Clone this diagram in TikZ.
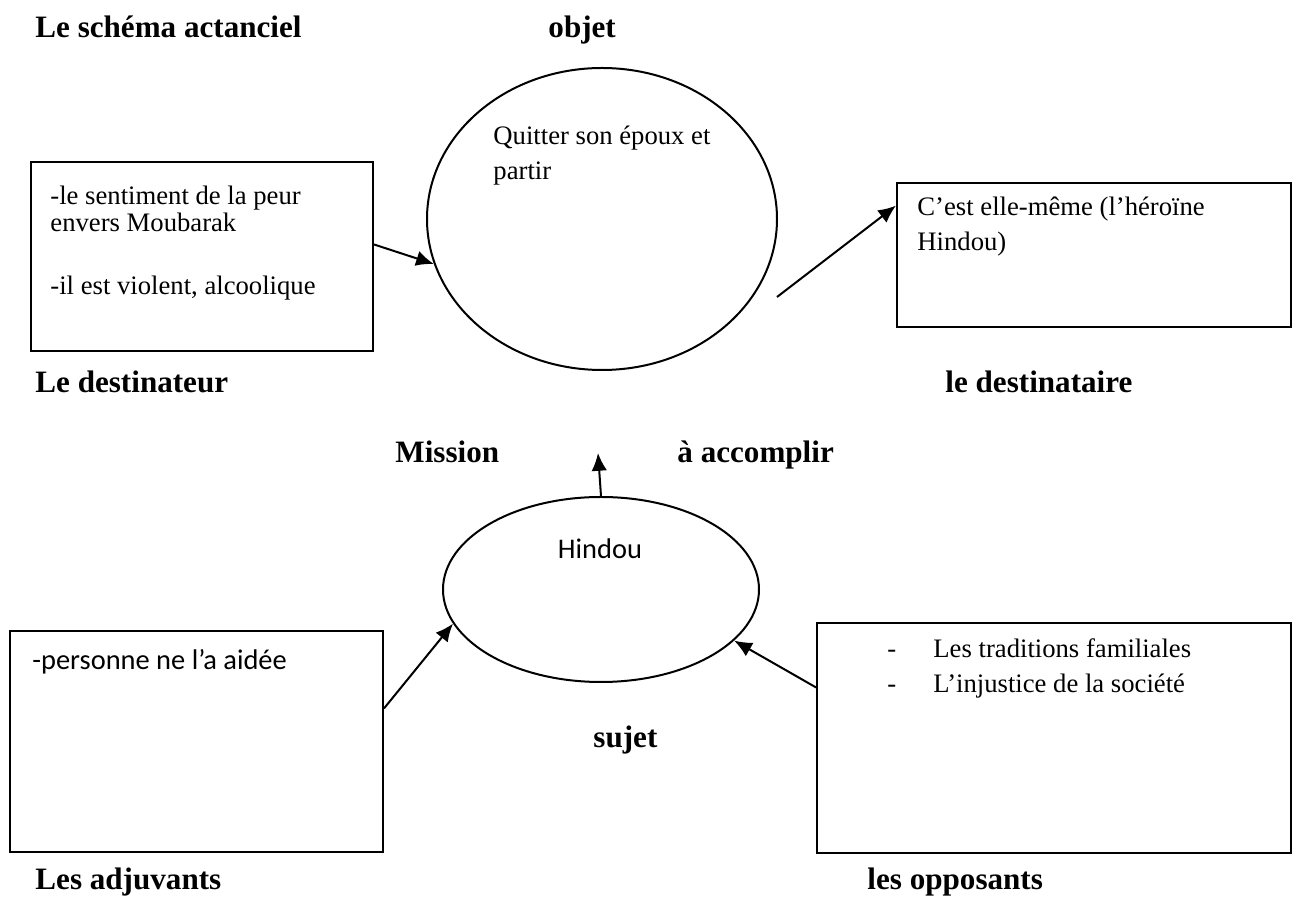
\documentclass[tikz,border=0pt]{standalone}
\usepackage{fontspec}
\setmainfont{Liberation Serif}
\newfontfamily\calibri{Carlito}
\usetikzlibrary{arrows.meta, shapes.geometric}

\begin{document}
\begin{tikzpicture}[x=0.45pt,y=-0.45pt,>={Latex[length=8pt,width=7pt]},
		lab/.style={font=\bfseries\fontsize{14}{16}\selectfont,inner sep=0,anchor=base west},
		txt/.style={font=\fontsize{12}{15.75}\selectfont,inner sep=0,anchor=base west,align=left},
		cal/.style={font=\calibri\fontsize{12.8}{15}\selectfont,inner sep=0,anchor=base west},
		box/.style={draw,line width=0.9pt,inner sep=0},
		bulle/.style={ellipse,draw,line width=0.9pt,inner sep=0},
		every edge/.append style={line width=0.9pt}]
	\useasboundingbox (0,0) rectangle (1314,900);
	% titres
	\node[lab] (titre) at (35,38) {Le schéma actanciel};
	\node[lab] (lobjet) at (548,38) {objet};
	\node[lab] (ldteur) at (35,393) {Le destinateur};
	\node[lab] (ldtaire) at (945,393) {le destinataire};
	\node[lab] (lmission) at (395,463) {Mission};
	\node[lab] (laccomplir) at (677,463) {à accomplir};
	\node[lab] (lsujet) at (593,748) {sujet};
	\node[lab] (ladj) at (35,890) {Les adjuvants};
	\node[lab] (lopp) at (867,890) {les opposants};
	% objet
	\node[bulle,minimum width=157.5pt,minimum height=135.9pt] (obj) at (602,219) {};
	\node[txt] (objtxt) at (493,180) {Quitter son époux et\\partir};
	% destinateur
	\node[box,minimum width=153.9pt,minimum height=85.05pt] (dteur) at (202,256.5) {};
	\node[txt,font=\fontsize{12}{12.3}\selectfont] (peur) at (50,232) {-le sentiment de la peur\\envers Moubarak};
	\node[txt] (violent) at (50,295) {-il est violent, alcoolique};
	% destinataire
	\node[box,minimum width=177.3pt,minimum height=64.8pt] (dtaire) at (1094,255) {};
	\node[txt] (heroine) at (917,251) {C’est elle-même (l’héroïne\\Hindou)};
	\coordinate (objout) at (777,297);
	% sujet
	\node[bulle,minimum width=142.2pt,minimum height=83.25pt] (sujet) at (601,589.5) {};
	\node[cal,anchor=base] (hindou) at (600,559) {Hindou};
	\coordinate (mission) at (598,453);
	% adjuvants
	\node[box,minimum width=167.85pt,minimum height=99.45pt] (adj) at (196.5,741.5) {};
	\node[cal] (personne) at (32,670) {-personne ne l’a aidée};
	% opposants
	\node[box,minimum width=213.3pt,minimum height=103.5pt] (opp) at (1054,738) {};
	\node[txt] (tirets) at (887,693) {-\\-};
	\node[txt] (opptxt) at (933,693) {Les traditions familiales\\L’injustice de la société};

	\path[->] (dteur.4) edge (obj.195)
		(objout) edge (dtaire.166)
		(sujet.north) edge (mission)
		(adj.10.5) edge (sujet.193)
		(opp.168) edge (sujet.-21);
\end{tikzpicture}
\end{document}
